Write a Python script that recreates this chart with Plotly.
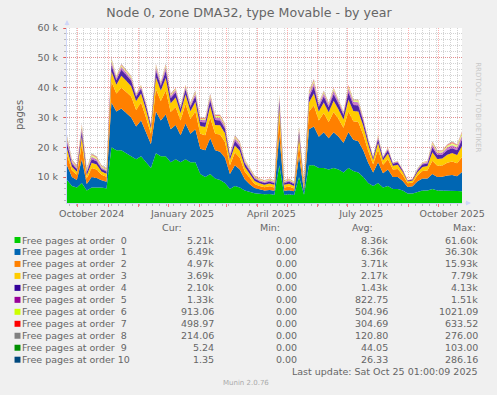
import plotly.graph_objects as go
import pandas as pd

# ---------------- data (values in thousands of pages, one sample every 5 days) ----------------
start_date = "2024-09-20"
end_date = "2025-10-25"
n_points = 81
dates = pd.date_range(start_date, periods=n_points, freq="5D")

order0 = [9, 7, 6.5, 8, 5.5, 6.5, 6.5, 6.5, 6.2, 20, 19, 19, 18, 17, 16, 17, 15, 13, 18, 17,
          17, 15, 16, 15, 16, 15, 15, 11, 10, 11, 9.5, 9, 8, 6, 7, 6.5, 5.5, 5, 4.6, 4.4,
          4.2, 4.3, 4.1, 14, 4.1, 4.2, 4.0, 10, 4.1, 14, 14, 13, 13, 12.5, 13, 12.5, 11.5, 13, 12, 11.5,
          10, 8, 7, 8, 6.5, 7, 6, 6, 5.5, 4.5, 4.5, 5, 5.5, 5.5, 6, 5.5, 5.5, 5.5, 5.5, 5.3,
          5.2]
order1 = [5, 3, 2.5, 8, 2.2, 3.5, 3.2, 2.4, 2.2, 15, 13, 14, 13.5, 13, 11, 12, 10, 8, 14, 12,
          14, 11, 11.5, 9, 12, 9.5, 11, 8.5, 9, 12, 9.5, 9.5, 8.5, 5, 7, 6, 3.8, 2.6, 1.7, 1.4,
          1.3, 1.4, 1.3, 10, 1.3, 1.4, 1.2, 7, 1.3, 12, 13, 10.5, 12, 10.5, 12, 11, 10, 12, 10.5, 10.5,
          9, 6.8, 4.5, 7, 4.8, 5.5, 4, 4, 3.2, 2.2, 2.4, 3.6, 4, 4, 5, 4.5, 4.6, 5, 5.2, 5,
          6.5]
order2 = [3.5, 2.2, 1.8, 5, 1.8, 3, 2.8, 1.9, 1.7, 7, 6, 7, 7, 7, 5.5, 6, 5, 3.5, 7.5, 6.5,
          8, 5.8, 6, 5, 6.5, 5, 6, 5, 5, 7, 5.5, 5.8, 5.3, 3, 4.2, 4, 2.6, 2, 1.4, 1.2,
          1.1, 1.2, 1.1, 6, 1.1, 1.2, 1.0, 4, 1.1, 6, 7, 5.5, 6.5, 5.5, 6.8, 6, 5, 7, 6.2, 6.5,
          5.2, 4, 2.8, 4.2, 2.8, 3.5, 2.5, 2.7, 2, 1.2, 1.3, 2, 2.5, 2.7, 4.5, 3.8, 3.8, 4.3, 4.5, 4.3,
          5]
order3 = [2, 1.3, 1.0, 2.5, 1.1, 1.8, 1.7, 1.1, 1.0, 3.5, 3, 4, 3.8, 3.5, 3, 3, 2.6, 1.8, 4, 3.5,
          4.2, 3, 3.2, 2.5, 3.2, 2.6, 3.3, 2.6, 2.8, 3.8, 3, 3.1, 2.9, 1.8, 2.4, 2.3, 1.6, 1.3, 1, 0.9,
          0.85, 0.9, 0.9, 3.5, 0.9, 0.95, 0.8, 2.5, 0.9, 3, 4, 3, 3.5, 3.2, 3.8, 3.2, 2.8, 4, 3.5, 3.5,
          3, 2.2, 1.4, 2.2, 1.5, 1.9, 1.3, 1.4, 1, 0.6, 0.65, 1.1, 1.4, 1.5, 2.8, 2.3, 2.3, 2.7, 2.9, 2.8,
          3.7]
order4 = [1.8, 1.0, 0.8, 1.8, 0.9, 1.2, 1.1, 0.8, 0.7, 2, 1.5, 2, 1.9, 1.8, 1.4, 1.6, 1.3, 0.9, 2.2, 1.6,
          2.4, 1.6, 1.7, 1.3, 1.7, 1.4, 1.8, 1.4, 1.5, 2, 1.6, 1.6, 1.5, 1, 1.5, 1.4, 1.1, 0.9, 0.7, 0.6,
          0.6, 0.65, 0.65, 2, 0.6, 0.7, 0.6, 1.5, 0.6, 1.8, 2.3, 1.5, 2, 1.7, 2.2, 1.8, 1.5, 2.4, 2, 2,
          1.5, 1.1, 0.7, 1.3, 0.8, 1.1, 0.7, 0.75, 0.45, 0.3, 0.35, 0.6, 0.8, 0.85, 1.6, 1.3, 1.3, 1.5, 1.6, 1.6,
          2.1]
order5 = [1.2, 0.6, 0.5, 1.2, 0.6, 0.8, 0.7, 0.5, 0.5, 1.2, 0.8, 1, 0.9, 0.8, 0.6, 0.7, 0.6, 0.45, 1.2, 0.8,
          1.2, 0.8, 0.8, 0.6, 0.8, 0.7, 0.9, 0.7, 0.8, 1, 0.9, 0.9, 0.85, 0.6, 0.9, 0.85, 0.65, 0.55, 0.45, 0.4,
          0.4, 0.45, 0.4, 1.2, 0.45, 0.45, 0.4, 0.9, 0.45, 1, 1.3, 0.8, 1.1, 0.9, 1.2, 0.9, 0.7, 1.4, 1.1, 1.1,
          0.8, 0.5, 0.35, 0.7, 0.4, 0.55, 0.3, 0.4, 0.22, 0.13, 0.17, 0.35, 0.45, 0.5, 1, 0.75, 0.7, 0.9, 1, 0.95,
          1.33]
order6 = [0.7, 0.4, 0.4, 0.7, 0.5, 0.6, 0.5, 0.4, 0.35, 0.7, 0.4, 0.5, 0.5, 0.5, 0.3, 0.4, 0.3, 0.2, 0.6, 0.35,
          0.6, 0.4, 0.45, 0.35, 0.45, 0.4, 0.5, 0.4, 0.45, 0.6, 0.5, 0.55, 0.5, 0.35, 0.5, 0.5, 0.45, 0.35, 0.35, 0.35,
          0.35, 0.4, 0.35, 0.7, 0.35, 0.4, 0.33, 0.6, 0.35, 0.6, 0.7, 0.4, 0.5, 0.4, 0.6, 0.4, 0.3, 0.7, 0.5, 0.6,
          0.3, 0.25, 0.15, 0.35, 0.15, 0.3, 0.13, 0.16, 0.09, 0.05, 0.08, 0.2, 0.22, 0.28, 0.6, 0.45, 0.45, 0.6, 0.65, 0.6,
          0.91]
order7 = [0.4, 0.3, 0.3, 0.4, 0.25, 0.35, 0.3, 0.25, 0.2, 0.4, 0.2, 0.3, 0.25, 0.25, 0.15, 0.2, 0.15, 0.1, 0.3, 0.15,
          0.4, 0.25, 0.25, 0.2, 0.25, 0.25, 0.35, 0.25, 0.3, 0.4, 0.35, 0.35, 0.3, 0.2, 0.35, 0.3, 0.2, 0.2, 0.2, 0.17,
          0.15, 0.15, 0.15, 0.4, 0.15, 0.15, 0.13, 0.35, 0.15, 0.4, 0.45, 0.2, 0.25, 0.2, 0.3, 0.15, 0.15, 0.4, 0.15, 0.2,
          0.15, 0.1, 0.07, 0.2, 0.03, 0.12, 0.05, 0.07, 0.03, 0.02, 0.05, 0.1, 0.1, 0.14, 0.35, 0.25, 0.25, 0.35, 0.4, 0.3,
          0.5]
order8 = [0.2, 0.1, 0.1, 0.2, 0.1, 0.15, 0.1, 0.1, 0.1, 0.1, 0.05, 0.1, 0.1, 0.1, 0.03, 0.05, 0.03, 0.03, 0.1, 0.05,
          0.1, 0.1, 0.05, 0.03, 0.05, 0.1, 0.1, 0.1, 0.1, 0.15, 0.1, 0.15, 0.1, 0.03, 0.1, 0.1, 0.07, 0.07, 0.07, 0.05,
          0.03, 0.03, 0.03, 0.1, 0.03, 0.03, 0.02, 0.1, 0.03, 0.15, 0.2, 0.05, 0.1, 0.05, 0.05, 0.02, 0.02, 0.05, 0.02, 0.05,
          0.03, 0.03, 0.01, 0.03, 0.01, 0.01, 0.01, 0.01, 0.005, 0, 0, 0.03, 0.02, 0.02, 0.12, 0.1, 0.07, 0.12, 0.2, 0.12,
          0.21]
order9 = [0.1, 0.05, 0.05, 0.1, 0.03, 0.05, 0.05, 0.03, 0.03, 0.05, 0.03, 0.05, 0.03, 0.03, 0.01, 0.03, 0.01, 0.01, 0.05, 0.03,
          0.05, 0.03, 0.03, 0.01, 0.03, 0.03, 0.03, 0.03, 0.03, 0.03, 0.03, 0.03, 0.03, 0.01, 0.03, 0.03, 0.02, 0.02, 0.02, 0.02,
          0.01, 0.01, 0.01, 0.05, 0.01, 0.01, 0.01, 0.03, 0.01, 0.03, 0.03, 0.03, 0.03, 0.03, 0.03, 0.02, 0.02, 0.03, 0.02, 0.03,
          0.01, 0.01, 0.01, 0.01, 0.005, 0.01, 0.005, 0.005, 0.0025, 0, 0, 0.01, 0.005, 0.005, 0.02, 0.03, 0.02, 0.02, 0.03, 0.02,
          0.005]
order10 = [0.1, 0.05, 0.05, 0.1, 0.02, 0.05, 0.05, 0.02, 0.02, 0.05, 0.02, 0.05, 0.02, 0.02, 0.01, 0.02, 0.01, 0.01, 0.05, 0.02,
           0.05, 0.02, 0.02, 0.01, 0.02, 0.02, 0.02, 0.02, 0.02, 0.02, 0.02, 0.02, 0.02, 0.01, 0.02, 0.02, 0.01, 0.01, 0.01, 0.01,
           0.01, 0.01, 0.01, 0.05, 0.01, 0.01, 0.01, 0.02, 0.01, 0.02, 0.02, 0.02, 0.02, 0.02, 0.02, 0.01, 0.01, 0.02, 0.01, 0.02,
           0.01, 0.01, 0.01, 0.01, 0.005, 0.01, 0.005, 0.005, 0.0025, 0, 0, 0.01, 0.005, 0.005, 0.01, 0.02, 0.01, 0.01, 0.02, 0.01,
           0.001]

series = [order0, order1, order2, order3, order4, order5, order6, order7, order8, order9, order10]
labels = ["Free pages at order\u00a0\u00a0%d" % i if i < 10 else "Free pages at order %d" % i for i in range(11)]
colors = ["#00CC00", "#0066B3", "#FF8000", "#FFCC00", "#330099", "#990099",
          "#CCFF00", "#FF0000", "#808080", "#008F00", "#00487D"]
# the upper layers look washed out in the reference (anti-aliased spiky edges)
fill_alpha = [1, 1, 1, 1, 0.85, 0.5, 0.5, 0.5, 0.5, 0.5, 0.5]

cur_vals = ["5.21k", "6.49k", "4.97k", "3.69k", "2.10k", "1.33k", "913.06", "498.97", "214.06", "5.24", "1.35"]
min_vals = ["0.00"] * 11
avg_vals = ["8.36k", "6.36k", "3.71k", "2.17k", "1.43k", "822.75", "504.96", "304.69", "120.80", "44.05", "26.33"]
max_vals = ["61.60k", "36.30k", "15.93k", "7.79k", "4.13k", "1.51k", "1021.09", "633.52", "276.00", "103.00", "286.16"]

y_tickvals = [10000, 20000, 30000, 40000, 50000, 60000]
y_ticktext = ["10 k", "20 k", "30 k", "40 k", "50 k", "60 k"]
x_label_dates = ["2024-10-15", "2025-01-15", "2025-04-15", "2025-07-15", "2025-10-15"]
x_label_text = ["October 2024", "January 2025", "April 2025", "July 2025", "October 2025"]

title = "Node 0, zone DMA32, type Movable - by year"
last_update = "Last update: Sat Oct 25 01:00:09 2025"

# ---------------- layout geometry (pixels) ----------------
W, H = 497, 395
L, R, T, B = 67, 31, 28, 192
PW, PH = W - L - R, H - T - B
FONT = "DejaVu Sans"
TXT = "#666666"


def px(x):
    return (x - L) / PW


def py(y):
    return (H - B - y) / PH


def rgba(hex_color, a):
    h = hex_color.lstrip("#")
    return "rgba(%d,%d,%d,%s)" % (int(h[0:2], 16), int(h[2:4], 16), int(h[4:6], 16), a)


fig = go.Figure()
for i, s in enumerate(series):
    fig.add_trace(go.Scatter(
        x=dates, y=[v * 1000 for v in s], name=labels[i], mode="lines",
        stackgroup="one", line=dict(width=0, color=colors[i]),
        fillcolor=rgba(colors[i], fill_alpha[i]),
        hoverinfo="skip", showlegend=False))

# invisible helper trace so the label axis is drawn
fig.add_trace(go.Scatter(x=[dates[0]], y=[None], xaxis="x2", yaxis="y",
                         mode="markers", showlegend=False, hoverinfo="skip"))

grid_major = "rgba(255,0,0,0.32)"
grid_minor = "rgba(128,128,128,0.35)"
axis_col = "#CFD6F8"

fig.update_layout(
    width=W, height=H, autosize=False,
    margin=dict(l=L, r=R, t=T, b=B, pad=0),
    paper_bgcolor="#F0F0F0", plot_bgcolor="#FFFFFF",
    font=dict(family=FONT, size=9.5, color=TXT),
    hovermode=False,
    title=dict(text=title, x=249 / W, xanchor="center", y=1 - 13 / H, yanchor="middle",
               font=dict(size=12.6, color=TXT, family=FONT)),
    xaxis=dict(type="date", range=[start_date, end_date], tickmode="linear",
               tick0="2024-10-01", dtick="M1", showticklabels=False,
               showgrid=True, gridcolor=grid_major, griddash="1px,1px", gridwidth=1,
               ticks="outside", ticklen=3, tickcolor="rgba(255,0,0,0.5)",
               showline=True, linecolor=axis_col, linewidth=1, zeroline=False,
               minor=dict(tickmode="linear", tick0="2024-09-23", dtick=7 * 86400000,
                          showgrid=True, gridcolor=grid_minor, griddash="1px,1px",
                          ticks="outside", ticklen=2, tickcolor="rgba(128,128,128,0.5)")),
    xaxis2=dict(type="date", overlaying="x", side="bottom", range=[start_date, end_date],
                tickmode="array", tickvals=x_label_dates, ticktext=x_label_text,
                showgrid=False, ticks="", showline=False, zeroline=False,
                ticklabelstandoff=3,
                tickfont=dict(size=9.5, color=TXT, family=FONT)),
    yaxis=dict(range=[1300, 60000], tickmode="array", tickvals=y_tickvals, ticktext=y_ticktext,
               showgrid=True, gridcolor=grid_major, griddash="1px,1px", gridwidth=1,
               ticks="outside", ticklen=3, tickcolor="rgba(255,0,0,0.5)",
               showline=True, linecolor=axis_col, linewidth=1, zeroline=False,
               tickfont=dict(size=9.5, color=TXT, family=FONT), ticklabelstandoff=3,
               minor=dict(tickmode="linear", tick0=0, dtick=2000, showgrid=True,
                          gridcolor=grid_minor, griddash="1px,1px",
                          ticks="outside", ticklen=2, tickcolor="rgba(128,128,128,0.5)")),
)

ann = []
shapes = []
# y axis title
ann.append(dict(text="pages", x=px(11), y=py(115), xref="paper", yref="paper",
                showarrow=False, textangle=-90, font=dict(size=10, color=TXT, family=FONT)))
# rrdtool credit
ann.append(dict(text="RRDTOOL / TOBI OETIKER", x=px(488), y=py(60), xref="paper", yref="paper",
                showarrow=False, textangle=90, font=dict(size=7, color="#C8C8C8", family=FONT)))
# axis arrows
ann.append(dict(text="", x=px(475), y=0, xref="paper", yref="paper", showarrow=True,
                ax=-7, ay=0, arrowhead=2, arrowsize=1, arrowwidth=1, arrowcolor=axis_col))
ann.append(dict(text="", x=0, y=py(20), xref="paper", yref="paper", showarrow=True,
                ax=0, ay=7, arrowhead=2, arrowsize=1, arrowwidth=1, arrowcolor=axis_col))

# legend table
header_y = 227.7
row0_y = 240.0
row_step = 11.97
for txt, xl in [("Cur:", 161), ("Min:", 260), ("Avg:", 353), ("Max:", 455)]:
    ann.append(dict(text=txt, x=px(xl), y=py(header_y), xref="paper", yref="paper",
                    xanchor="left", yanchor="middle", showarrow=False))
cols = [(cur_vals, 218), (min_vals, 301), (avg_vals, 393), (max_vals, 484)]
for i in range(11):
    yy = row0_y + i * row_step
    shapes.append(dict(type="rect", xref="paper", yref="paper",
                       x0=px(14), x1=px(20), y0=py(yy + 3), y1=py(yy - 3),
                       fillcolor=colors[i], line=dict(width=0)))
    ann.append(dict(text=labels[i], x=px(19.5), y=py(yy), xref="paper", yref="paper",
                    xanchor="left", yanchor="middle", showarrow=False))
    for vals, xr in cols:
        ann.append(dict(text=vals[i], x=px(xr), y=py(yy), xref="paper", yref="paper",
                        xanchor="right", yanchor="middle", showarrow=False))
ann.append(dict(text=last_update, x=px(484), y=py(371.7), xref="paper", yref="paper",
                xanchor="right", yanchor="middle", showarrow=False))
ann.append(dict(text="Munin 2.0.76", x=px(248), y=py(383), xref="paper", yref="paper",
                xanchor="center", yanchor="middle", showarrow=False,
                font=dict(size=7, color="#AAAAAA", family=FONT)))

fig.update_layout(annotations=ann, shapes=shapes)
fig.write_html("out.html", config={"displayModeBar": False},
               post_script="document.body.style.margin='0';document.body.style.overflow='hidden';")
